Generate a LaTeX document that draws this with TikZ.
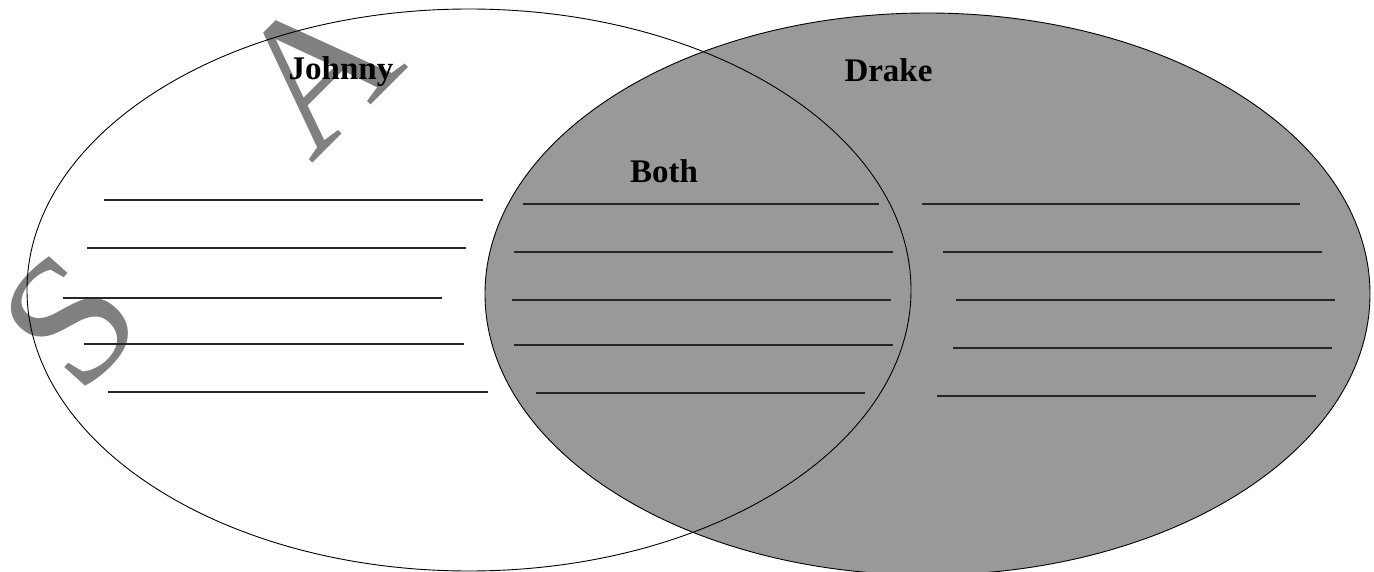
\documentclass[tikz,border=0pt]{standalone}
\usepackage{fontspec}
\setmainfont{Liberation Serif}
\definecolor{fillgray}{RGB}{153,153,153}
\definecolor{markgray}{RGB}{128,128,128}
\tikzset{
  oval/.style={line width=0.9pt, draw=black},
  blank/.style={line width=1.2pt, draw=black!85},
  title/.style={font=\bfseries\fontsize{33}{33}\selectfont, anchor=base, inner sep=0pt},
  bigmark/.style={text=markgray, inner sep=0pt}
}
\begin{document}
\begin{tikzpicture}[x=1pt,y=-1pt]
\useasboundingbox (0,0) rectangle (1374,572);
% fills
\path[fill=white] (469,290) ellipse [x radius=442pt, y radius=281pt];
\path[fill=fillgray] (927.5,294) ellipse [x radius=442.5pt, y radius=281pt];
% watermark letters
\node[bigmark, rotate=45, font=\fontsize{192}{192}\selectfont] (markA) at (316,71) {A};
\node[bigmark, rotate=48, font=\fontsize{184}{184}\selectfont] (markS) at (70,320) {S};
% outlines
\draw[oval] (469,290) ellipse [x radius=442pt, y radius=281pt];
\draw[oval] (927.5,294) ellipse [x radius=442.5pt, y radius=281pt];
% left lines
\draw[blank] (104,200) -- (483,200);
\draw[blank] (87,248) -- (466,248);
\draw[blank] (63,298) -- (442,298);
\draw[blank] (84,344) -- (464,344);
\draw[blank] (108,392) -- (488,392);
% middle lines
\draw[blank] (523,204) -- (879,204);
\draw[blank] (514,252) -- (893,252);
\draw[blank] (512,300) -- (891,300);
\draw[blank] (514,345) -- (893,345);
\draw[blank] (536,393) -- (865,393);
% right lines
\draw[blank] (922,204) -- (1300,204);
\draw[blank] (943,252) -- (1322,252);
\draw[blank] (956,300) -- (1335,300);
\draw[blank] (953,348) -- (1332,348);
\draw[blank] (937,396) -- (1316,396);
% titles
\node[title] (johnny) at (341,80) {Johnny};
\node[title] (drake) at (888.5,82) {Drake};
\node[title] (both) at (664,183) {Both};
\end{tikzpicture}
\end{document}
